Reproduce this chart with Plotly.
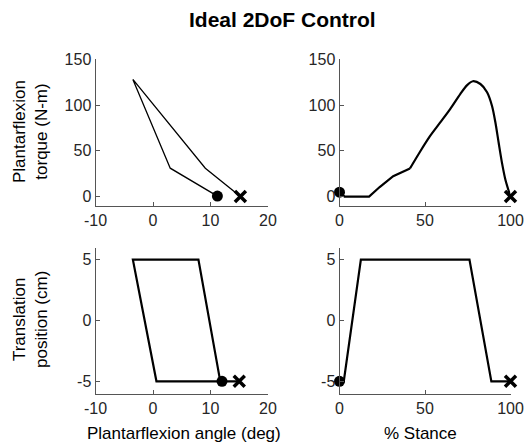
import plotly.graph_objects as go

W, H = 530, 443

# ---- data ----
tl_angle = [11.2, 3.0, -3.5, 9.1, 15.2]
tl_torque = [0.5, 31, 128, 31, 0]

tr_stance = [0, 3, 17.3, 23.5, 31.4, 41.2, 47.1, 52.9, 58.8, 64.7, 70.6, 74.5, 78,
             82.4, 86.3, 89.2, 91.2, 93.1, 95.1, 97.1, 100]
tr_torque = [4.8, 0, 0, 10.4, 22.2, 30.7, 49, 66, 80.7, 95.6, 112, 121.5, 126,
             123, 114, 99, 80.7, 58.5, 36, 17.8, 0]

bl_angle = [12.0, 0.6, -3.5, 7.9, 11.7, 15.0]
bl_trans = [-5, -5, 5, 5, -5, -5]

br_stance = [0, 2.5, 12.5, 76, 88.8, 100]
br_trans = [-5, -5, 5, 5, -5, -5]

angle_ticks = [-10, 0, 10, 20]
stance_ticks = [0, 50, 100]
torque_ticks = [0, 50, 100, 150]
trans_ticks = [-5, 0, 5]

FONT = "Liberation Sans, Arial, sans-serif"
TXT = "#262626"
AX = "#555555"

fig = go.Figure()

def add_line(x, y, xa, ya, lw, shape="linear"):
    fig.add_trace(go.Scatter(x=x, y=y, mode="lines", xaxis=xa, yaxis=ya,
                             line=dict(color="black", width=lw, shape=shape, smoothing=0.8),
                             cliponaxis=False, showlegend=False, hoverinfo="skip"))

def add_ends(x, y, xa, ya):
    fig.add_trace(go.Scatter(x=[x[0]], y=[y[0]], mode="markers", xaxis=xa, yaxis=ya,
                             marker=dict(symbol="circle", size=11, color="black"),
                             cliponaxis=False, showlegend=False))
    fig.add_trace(go.Scatter(x=[x[-1]], y=[y[-1]], mode="markers", xaxis=xa, yaxis=ya,
                             marker=dict(symbol="x-thin", size=11, color="black",
                                         line=dict(color="black", width=3.5)),
                             cliponaxis=False, showlegend=False))

add_line(tl_angle, tl_torque, "x", "y", 1.3)
add_ends(tl_angle, tl_torque, "x", "y")

k = tr_stance.index(41.2)
add_line(tr_stance[:k + 1], tr_torque[:k + 1], "x2", "y2", 2.2)
add_line(tr_stance[k:], tr_torque[k:], "x2", "y2", 2.2, shape="spline")
add_ends(tr_stance, tr_torque, "x2", "y2")

add_line(bl_angle, bl_trans, "x3", "y3", 2.2)
add_ends(bl_angle, bl_trans, "x3", "y3")
add_line(br_stance, br_trans, "x4", "y4", 2.2)
add_ends(br_stance, br_trans, "x4", "y4")

def px(a): return a / W
def py(a): return 1 - a / H

def axis(domain, rng, ticks, anchor):
    return dict(domain=domain, range=rng, tickvals=ticks, ticktext=[str(t) for t in ticks],
                anchor=anchor, showline=True, linecolor=AX, linewidth=1, automargin=False,
                ticks="inside", ticklen=4, tickcolor=AX, showgrid=False, zeroline=False,
                tickfont=dict(family=FONT, size=16, color=TXT), fixedrange=True)

top_dom = [py(205.7), py(59.3)]
bot_dom = [py(393.5), py(247.5)]
left_dom = [px(95.5), px(268)]
right_dom = [px(339.5), px(510.5)]

fig.update_layout(
    width=W, height=H, margin=dict(l=0, r=0, t=0, b=0, autoexpand=False),
    paper_bgcolor="white", plot_bgcolor="white",
    xaxis=axis(left_dom, [-10, 20], angle_ticks, "y"),
    yaxis=axis(top_dom, [-10, 150], torque_ticks, "x"),
    xaxis2=axis(right_dom, [0, 100], stance_ticks, "y2"),
    yaxis2=axis(top_dom, [-10, 150], torque_ticks, "x2"),
    xaxis3=axis(left_dom, [-10, 20], angle_ticks, "y3"),
    yaxis3=axis(bot_dom, [-6, 6], trans_ticks, "x3"),
    xaxis4=axis(right_dom, [0, 100], stance_ticks, "y4"),
    yaxis4=axis(bot_dom, [-6, 6], trans_ticks, "x4"),
)

ann = [
    dict(text="<b>Ideal 2DoF Control</b>", x=px(282), y=py(20), size=21),
    dict(text="Plantarflexion angle (deg)", x=px(184), y=py(433), size=17),
    dict(text="% Stance", x=px(420), y=py(433), size=17),
    dict(text="Plantarflexion<br>torque (N-m)", x=px(30), y=py(132), size=17, angle=-90),
    dict(text="Translation<br>position (cm)", x=px(30), y=py(320), size=17, angle=-90),
]
for a in ann:
    fig.add_annotation(text=a["text"], x=a["x"], y=a["y"], xref="paper", yref="paper",
                       xanchor="center", yanchor="middle", showarrow=False,
                       textangle=a.get("angle", 0),
                       font=dict(family=FONT, size=a["size"], color="black"))

fig.write_html("out.html", config={"displayModeBar": False, "staticPlot": True},
               post_script="document.body.style.margin='0';document.body.style.overflow='hidden';")
